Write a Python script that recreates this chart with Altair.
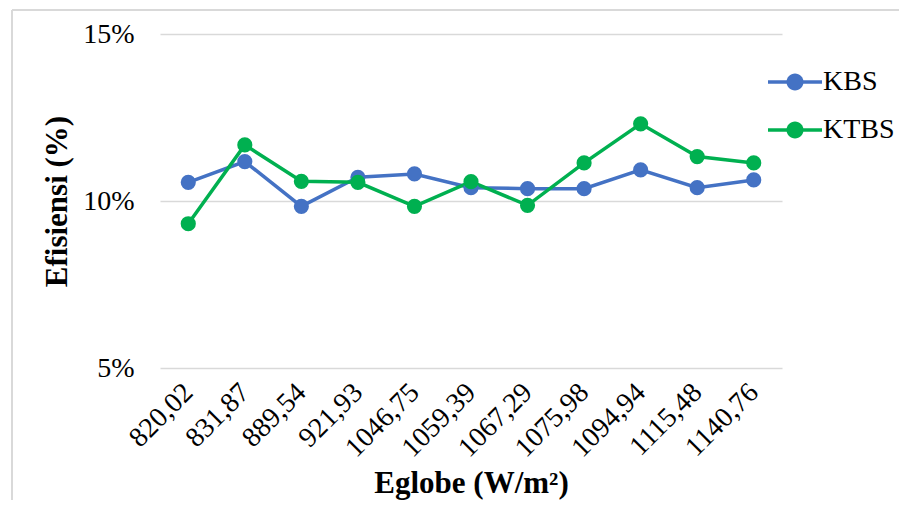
import altair as alt
import pandas as pd

categories = ["820,02", "831,87", "889,54", "921,93", "1046,75", "1059,39",
              "1067,29", "1075,98", "1094,94", "1115,48", "1140,76"]
kbs = [10.56, 11.18, 9.84, 10.71, 10.81, 10.40, 10.37, 10.37, 10.93, 10.40, 10.63]
ktbs = [9.32, 11.68, 10.59, 10.56, 9.84, 10.58, 9.87, 11.14, 12.31, 11.33, 11.14]
series = ["KBS", "KTBS"]
colors = ["#4472C4", "#00B050"]
y_ticks = [0.05, 0.10, 0.15]

rows = []
for c, a, b in zip(categories, kbs, ktbs):
    rows.append({"Eglobe": c, "Seri": "KBS", "Efisiensi": a / 100})
    rows.append({"Eglobe": c, "Seri": "KTBS", "Efisiensi": b / 100})
df = pd.DataFrame(rows)

FONT = "Liberation Serif"
line_path = "M-2.7,0L2.7,0"
dot_path = "M0.85,0A0.85,0.85,0,1,1,-0.85,0A0.85,0.85,0,1,1,0.85,0Z"

x_enc = alt.X("Eglobe:N", sort=categories,
              scale=alt.Scale(type="point", padding=0.5),
              axis=alt.Axis(title="Eglobe (W/m²)", labelAngle=-45,
                            labelAlign="right", labelBaseline="middle",
                            labelPadding=20, ticks=False, tickSize=0,
                            domain=False, grid=False, labelFont=FONT,
                            labelFontSize=28, labelColor="#000000",
                            titleFont=FONT, titleFontSize=31,
                            titleFontWeight="bold", titleColor="#000000",
                            titleY=124, titleBaseline="alphabetic"))
y_enc = alt.Y("Efisiensi:Q",
              scale=alt.Scale(domain=[0.05, 0.15], nice=False, zero=False),
              axis=alt.Axis(title="Efisiensi (%)", values=y_ticks, format=".0%",
                            ticks=False, tickSize=0, domain=False,
                            labelPadding=26, labelFont=FONT, labelFontSize=28,
                            labelColor="#000000", gridColor="#D9D9D9",
                            gridWidth=1.5, titleFont=FONT, titleFontSize=31,
                            titleFontWeight="bold", titleColor="#000000",
                            titleX=-103, titleY=167, titleAngle=-90,
                            titleBaseline="middle", titleAlign="center"))
color_scale = alt.Scale(domain=series, range=colors)

common = dict(title=None, orient="none", legendX=621, legendY=34,
              symbolSize=400, labelFont=FONT, labelFontSize=28,
              labelColor="#000000", labelOffset=14, rowPadding=20,
              labelLimit=300, symbolOpacity=1)
line_legend = alt.Legend(symbolType=line_path, symbolStrokeWidth=3.5,
                         labelOpacity=0, **common)
dot_legend = alt.Legend(symbolType=dot_path, symbolStrokeWidth=0, **common)

lines = alt.Chart(df).mark_line(strokeWidth=3.5).encode(
    x=x_enc, y=y_enc,
    stroke=alt.Stroke("Seri:N", scale=color_scale, legend=line_legend))
points = alt.Chart(df).mark_circle(size=230, opacity=1).encode(
    x=x_enc, y=y_enc,
    fill=alt.Fill("Seri:N", scale=color_scale, legend=dot_legend))

frame_top = alt.Chart(df).mark_rule(color="#D9D9D9", strokeWidth=1.5).encode(
    x=alt.value(-148), x2=alt.value(800), y=alt.value(-24))
frame_left = alt.Chart(df).mark_rule(color="#D9D9D9", strokeWidth=1.5).encode(
    x=alt.value(-148), y=alt.value(-24), y2=alt.value(500))

chart = alt.layer(frame_top, frame_left, lines, points).properties(
    width=622, height=334,
    autosize=alt.AutoSizeParams(type="none"),
    padding={"left": 152, "top": 26, "right": 117, "bottom": 132},
    background="#FFFFFF",
).resolve_scale(fill="independent", stroke="independent").configure_view(stroke=None)

chart.save("out.html", embed_options={"renderer": "svg", "actions": False})
